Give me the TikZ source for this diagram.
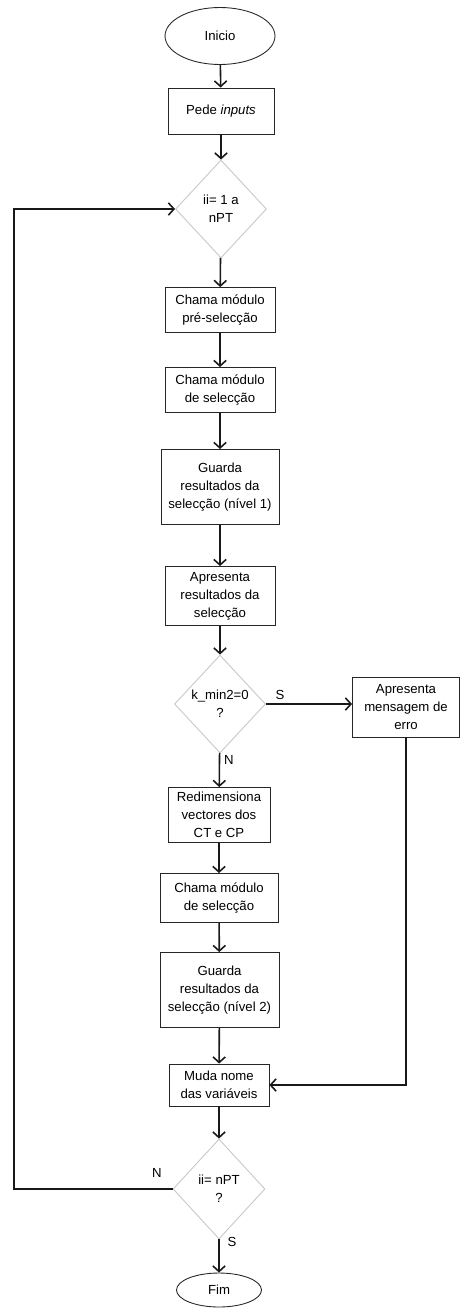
\documentclass[tikz,border=0pt]{standalone}
\usepackage{fontspec}
\setmainfont{Liberation Sans}
\usepackage{tikz}
\usetikzlibrary{positioning,shapes,arrows,arrows.meta}

\begin{document}
\begin{tikzpicture}[x=0.02cm, y=0.02cm]
\tikzstyle{every node}+=[inner sep=0pt, font=\fontsize{7.5}{10.2}\selectfont, align=center]
\tikzstyle{caixa}=[draw=black!85, rectangle, line width=0.5pt]
\tikzstyle{decisao}=[draw=black!22, diamond, line width=0.5pt]
\tikzstyle{terminal}=[draw=black!85, ellipse, line width=0.5pt]
\tikzstyle{liga}=[-{Straight Barb[length=3.2pt,width=7pt]}, line width=0.9pt, black!90]
\useasboundingbox (0,0) rectangle (461,-1309);
\node [terminal, minimum width=2.2cm, minimum height=1.14cm] (inicio) at (220,-36) {Inicio};
\node [caixa, minimum width=2.12cm, minimum height=0.92cm] (pede) at (221,-111) {Pede \textit{inputs}};
\node [decisao, minimum width=1.82cm, minimum height=1.96cm] (ciclo) at (221,-209) {ii= 1 a\\nPT};
\node [caixa, minimum width=2.2cm, minimum height=0.9cm] (presel) at (220,-310) {Chama módulo\\pré-selecção};
\node [caixa, minimum width=2.2cm, minimum height=0.9cm] (sel1) at (220,-390) {Chama módulo\\de selecção};
\node [caixa, minimum width=2.36cm, minimum height=1.5cm] (guarda1) at (220,-487) {Guarda\\resultados da\\selecção (nível 1)};
\node [caixa, minimum width=2.2cm, minimum height=1.18cm] (apres) at (220,-596) {Apresenta\\resultados da\\selecção};
\node [decisao, minimum width=1.82cm, minimum height=1.96cm] (kmin) at (220,-704) {k\_min2=0\\?};
\node [caixa, minimum width=2.14cm, minimum height=1.2cm] (erro) at (406,-707) {Apresenta\\mensagem de\\erro};
\node [caixa, minimum width=2.04cm, minimum height=1.1cm] (redim) at (219,-815) {Redimensiona\\vectores dos\\CT e CP};
\node [caixa, minimum width=2.36cm, minimum height=0.98cm] (sel2) at (219,-898) {Chama módulo\\de selecção};
\node [caixa, minimum width=2.38cm, minimum height=1.5cm] (guarda2) at (219.5,-990) {Guarda\\resultados da\\selecção (nível 2)};
\node [caixa, minimum width=2.0cm, minimum height=0.84cm] (muda) at (219,-1085) {Muda nome\\das variáveis};
\node [decisao, minimum width=1.84cm, minimum height=2.0cm] (fimciclo) at (219,-1189) {ii= nPT\\?};
\node [terminal, minimum width=1.7cm, minimum height=0.68cm] (fim) at (219,-1290) {Fim};
% etiquetas
\node (s1) at (280,-695) {S};
\node (n1) at (229,-760) {N};
\node (n2) at (157,-1173) {N};
\node (s2) at (232,-1242) {S};
% ligacoes
\coordinate (cb) at (14,-1189);
\coordinate (ct) at (14,-209);
\draw [liga] (inicio) -- (pede);
\draw [liga] (pede) -- (ciclo);
\draw [liga] (ciclo) -- (presel);
\draw [liga] (presel) -- (sel1);
\draw [liga] (sel1) -- (guarda1);
\draw [liga] (guarda1) -- (apres);
\draw [liga] (apres) -- (kmin);
\draw [liga] (kmin.east) -- (kmin.east -| erro.west);
\draw [liga] (kmin) -- (redim);
\draw [liga] (redim) -- (sel2);
\draw [liga] (sel2) -- (guarda2);
\draw [liga] (guarda2) -- (muda);
\draw [liga] (erro.south) |- (muda.east);
\draw [liga] (muda) -- (fimciclo);
\draw [liga] (fimciclo.west) -- (cb) -- (ct) -- (ciclo.west);
\draw [liga] (fimciclo) -- (fim);
\end{tikzpicture}
\end{document}
